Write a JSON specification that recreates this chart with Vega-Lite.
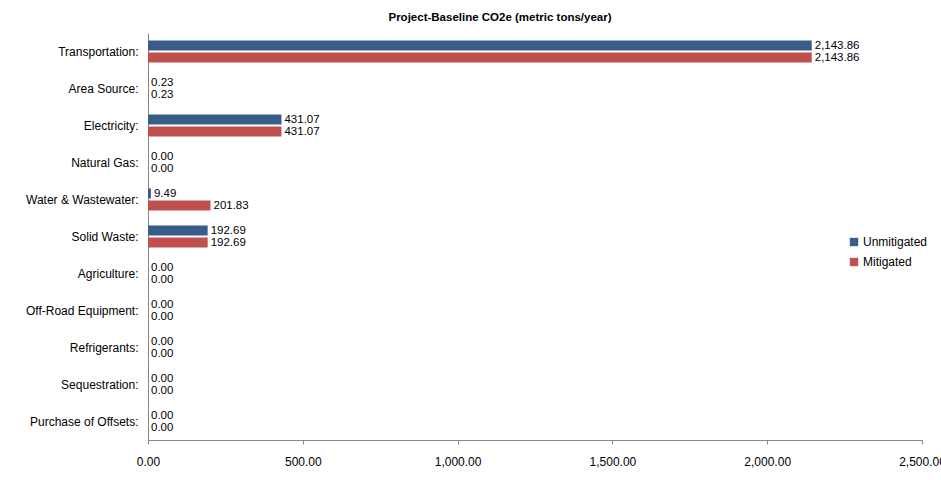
{
  "$schema": "https://vega.github.io/schema/vega-lite/v6.json",
  "autosize": {"type": "none"},
  "width": 774,
  "height": 407,
  "padding": {"left": 148, "top": 33, "right": 19, "bottom": 40},
  "background": "white",
  "title": {"text": "Project-Baseline CO2e  (metric tons/year)", "fontSize": 11.5, "fontWeight": "bold", "font": "Liberation Sans", "color": "#000000", "anchor": "middle", "dx": -35, "offset": 10},
  "config": {
    "view": {"stroke": null},
    "font": "Liberation Sans",
    "axis": {"labelFont": "Liberation Sans", "labelFontSize": 12, "labelColor": "#000000", "domainColor": "#868686", "tickColor": "#868686", "grid": false, "title": null}
  },
  "data": {"values": [
    {"category": "Transportation:", "series": "Unmitigated", "value": 2143.86},
    {"category": "Transportation:", "series": "Mitigated", "value": 2143.86},
    {"category": "Area Source:", "series": "Unmitigated", "value": 0.23},
    {"category": "Area Source:", "series": "Mitigated", "value": 0.23},
    {"category": "Electricity:", "series": "Unmitigated", "value": 431.07},
    {"category": "Electricity:", "series": "Mitigated", "value": 431.07},
    {"category": "Natural Gas:", "series": "Unmitigated", "value": 0},
    {"category": "Natural Gas:", "series": "Mitigated", "value": 0},
    {"category": "Water & Wastewater:", "series": "Unmitigated", "value": 9.49},
    {"category": "Water & Wastewater:", "series": "Mitigated", "value": 201.83},
    {"category": "Solid Waste:", "series": "Unmitigated", "value": 192.69},
    {"category": "Solid Waste:", "series": "Mitigated", "value": 192.69},
    {"category": "Agriculture:", "series": "Unmitigated", "value": 0},
    {"category": "Agriculture:", "series": "Mitigated", "value": 0},
    {"category": "Off-Road Equipment:", "series": "Unmitigated", "value": 0},
    {"category": "Off-Road Equipment:", "series": "Mitigated", "value": 0},
    {"category": "Refrigerants:", "series": "Unmitigated", "value": 0},
    {"category": "Refrigerants:", "series": "Mitigated", "value": 0},
    {"category": "Sequestration:", "series": "Unmitigated", "value": 0},
    {"category": "Sequestration:", "series": "Mitigated", "value": 0},
    {"category": "Purchase of Offsets:", "series": "Unmitigated", "value": 0},
    {"category": "Purchase of Offsets:", "series": "Mitigated", "value": 0}
  ]},
  "encoding": {
    "y": {"field": "category", "type": "nominal", "sort": null,
      "scale": {"paddingInner": 0.4, "paddingOuter": 0.2},
      "axis": {"ticks": false, "labelPadding": 10, "domainColor": "#868686"}},
    "yOffset": {"field": "series", "type": "nominal", "sort": ["Unmitigated", "Mitigated"], "scale": {"paddingInner": 0.15}},
    "x": {"field": "value", "type": "quantitative",
      "scale": {"domain": [0, 2500], "nice": false},
      "axis": {"values": [0, 500, 1000, 1500, 2000, 2500], "format": ",.2f", "tickSize": 4, "labelPadding": 12, "labelFlush": false}}
  },
  "layer": [
    {"mark": {"type": "bar"},
     "encoding": {
       "color": {"field": "series", "type": "nominal", "sort": ["Unmitigated", "Mitigated"],
         "scale": {"domain": ["Unmitigated", "Mitigated"], "range": ["#385D8A", "#C0504D"]},
         "legend": {"title": null, "orient": "none", "legendX": 700, "legendY": 203, "symbolType": "square", "symbolSize": 70, "symbolStrokeWidth": 0, "labelFontSize": 12, "labelFont": "Liberation Sans", "labelColor": "#000000", "rowPadding": 8, "labelOffset": 3}}
     }},
    {"mark": {"type": "text", "align": "left", "baseline": "middle", "dx": 3, "fontSize": 11.5, "font": "Liberation Sans", "color": "#000000"},
     "encoding": {"text": {"field": "value", "type": "quantitative", "format": ",.2f"}}}
  ]
}
